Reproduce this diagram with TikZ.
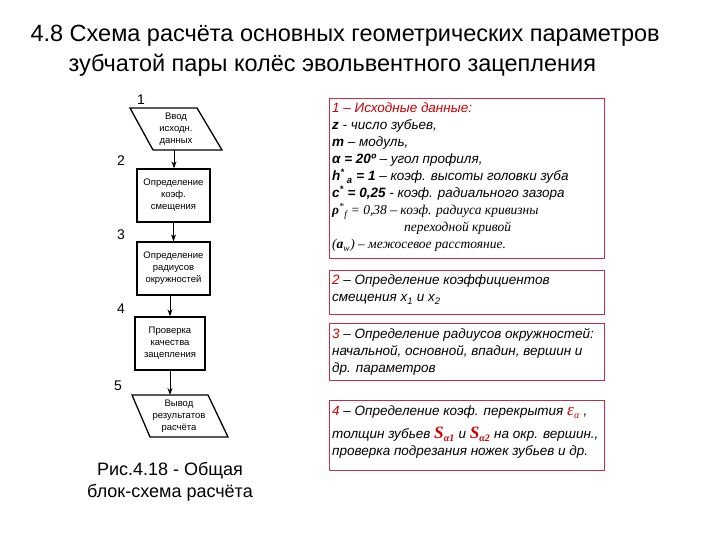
\documentclass[tikz,border=0pt]{standalone}
\usepackage{fontspec}
\setmainfont{Liberation Sans}
\usetikzlibrary{arrows.meta}
\definecolor{rb}{HTML}{C0304A}
\definecolor{rt}{HTML}{CC0000}
\begin{document}
\begin{tikzpicture}[x=1pt,y=-1pt,
  fb/.style={draw,line width=1.3pt,align=center,font=\fontsize{9.5}{12}\selectfont,inner sep=0pt},
  ft/.style={align=center,font=\fontsize{9.5}{12}\selectfont,inner sep=0pt},
  ibox/.style={draw=rb,line width=0.8pt},
  ib/.style={anchor=north west,align=left,inner sep=0pt,font=\fontsize{13.5}{17}\selectfont\itshape},
  ar/.style={-{Stealth[length=7pt,width=5pt]},line width=1pt},
  num/.style={font=\fontsize{14}{14}\selectfont}]
\useasboundingbox (0,0) rectangle (720,540);
\node[font=\fontsize{23.5}{30}\selectfont,align=left,anchor=north west] (title) at (27,22) {4.8 Схема расчёта основных геометрических параметров\\\hspace*{38pt}зубчатой пары колёс эвольвентного зацепления};
% flowchart
\draw[line width=1.3pt] (130,108) -- (197,108) -- (222,150) -- (153,150) -- cycle;
\node[ft] (p1) at (176,129) {Ввод\\исходн.\\данных};
\node[fb,minimum width=73pt,minimum height=53pt] (b2) at (173.5,195.5) {Определение\\коэф.\\смещения};
\node[fb,minimum width=73pt,minimum height=53pt] (b3) at (173.5,268.5) {Определение\\радиусов\\окружностей};
\node[fb,minimum width=70pt,minimum height=53pt] (b4) at (170,343.5) {Проверка\\качества\\зацепления};
\draw[line width=1.3pt] (132,395) -- (208,395) -- (228,437) -- (150,437) -- cycle;
\node[ft] (p5) at (179,416) {Вывод\\результатов\\расчёта};
\coordinate (p1b) at (174,150);
\coordinate (p5t) at (170,395);
\draw[ar] (p1b) -- (b2.north-|p1b);
\draw[ar] (b2.south) -- (b3.north);
\draw[ar] (b3.south-|b4.north) -- (b4.north);
\draw[ar] (b4.south) -- (p5t);
\node[num] (n1) at (141,100) {1};
\node[num] (n2) at (121,161) {2};
\node[num] (n3) at (121,235) {3};
\node[num] (n4) at (121,309) {4};
\node[num] (n5) at (118,386) {5};
\node[font=\fontsize{18}{22}\selectfont,align=center] (cap) at (170,482) {Рис.4.18 - Общая\\блок-схема расчёта};
% info boxes
\draw[ibox] (329,98) rectangle (604,258);
\draw[ibox] (329,270) rectangle (604,314);
\draw[ibox] (329,323) rectangle (604,380);
\draw[ibox] (329,400) rectangle (604,470);
\node[ib] (i1) at (332,103) {\textcolor{rt}{1 – Исходные данные:}\\
\textbf{z} - число зубьев,\\
\textbf{m} – модуль,\\
\textbf{α = 20º} – угол профиля,\\
\textbf{h\textsuperscript{*}\,\textsubscript{a} = 1} – коэф. высоты головки зуба\\
\textbf{c\textsuperscript{*} = 0,25} - коэф. радиального зазора\\
{\fontspec{Liberation Serif}\textbf{ρ}\textsuperscript{*}\textsubscript{f} = 0,38 – коэф. радиуса кривизны}\\
\hspace*{72pt}{\fontspec{Liberation Serif}переходной кривой}\\
{\fontspec{Liberation Serif}(\textbf{a}\textsubscript{w}) – межосевое расстояние.}};
\node[ib] (i2) at (332,275) {\textcolor{rt}{2} – Определение коэффициентов\\смещения x\textsubscript{1} и x\textsubscript{2}};
\node[ib] (i3) at (332,328) {\textcolor{rt}{3} – Определение радиусов окружностей:\\начальной, основной, впадин, вершин и\\др. параметров};
\node[ib,font=\fontsize{13.5}{23}\selectfont\itshape] (i4) at (332,406) {\textcolor{rt}{4} – Определение коэф. перекрытия \textcolor{rt}{\fontspec{Liberation Serif}\LARGE ε\textsubscript{\normalsize α}} ,\\толщин зубьев \textcolor{rt}{\fontspec{Liberation Serif}\LARGE\bfseries S\textsubscript{\normalsize α1}} и \textcolor{rt}{\fontspec{Liberation Serif}\LARGE\bfseries S\textsubscript{\normalsize α2}} на окр. вершин.,\\[-6pt]проверка подрезания ножек зубьев и др.};
\end{tikzpicture}
\end{document}
